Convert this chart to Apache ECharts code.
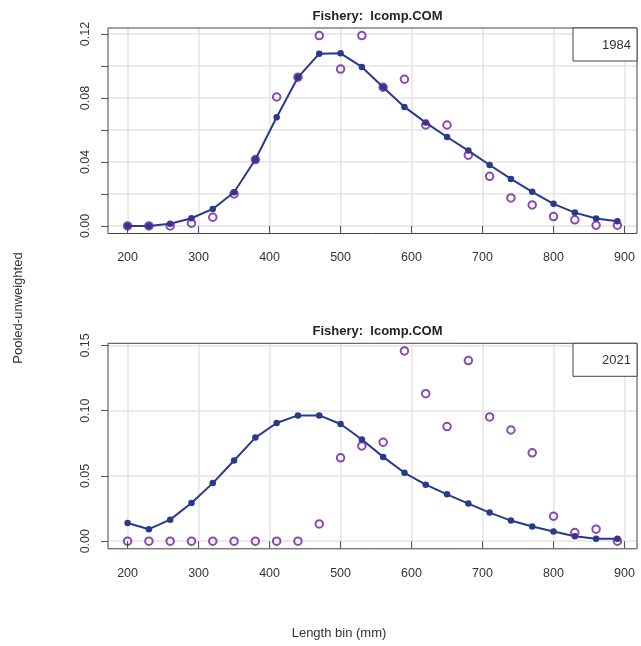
<!DOCTYPE html>
<html><head><meta charset="utf-8">
<script src="https://cdn.jsdelivr.net/npm/echarts@6/dist/echarts.min.js"></script>
<style>html,body{margin:0;padding:0;background:#fff}#c{width:641px;height:646px}</style>
</head><body><div id="c"></div>
<script>
// ---- data ----
const lengthBins = [200,230,260,290,320,350,380,410,440,470,500,530,560,590,620,650,680,710,740,770,800,830,860,890];
const exp1984 = [0.0000,0.0000,0.0013,0.0048,0.0106,0.0210,0.0415,0.0679,0.0929,0.1077,0.1079,0.0994,0.0867,0.0744,0.0646,0.0556,0.0471,0.0381,0.0294,0.0213,0.0138,0.0083,0.0046,0.0029];
const obs1984 = [0.0000,0.0000,0.0000,0.0017,0.0054,0.0200,0.0415,0.0806,0.0930,0.1190,0.0981,0.1190,0.0867,0.0917,0.0631,0.0631,0.0442,0.0310,0.0175,0.0131,0.0058,0.0038,0.0004,0.0004];
const exp2021 = [0.0140,0.0092,0.0165,0.0293,0.0445,0.0618,0.0794,0.0906,0.0964,0.0964,0.0898,0.0779,0.0646,0.0524,0.0433,0.0359,0.0288,0.0219,0.0158,0.0112,0.0074,0.0038,0.0018,0.0018];
const obs2021 = [0,0,0,0,0,0,0,0,0,0.0132,0.0639,0.0730,0.0758,0.1458,0.1130,0.0878,0.1384,0.0952,0.0852,0.0677,0.0191,0.0066,0.0092,0.0000];
const xTicks = [200,300,400,500,600,700,800,900];
const yTicks1984 = [0,0.02,0.04,0.06,0.08,0.10,0.12];
const yLabels1984 = [0,0.04,0.08,0.12];
const yTicks2021 = [0,0.05,0.10,0.15];
const yLabels2021 = [0,0.05,0.10,0.15];
const panelTitle = 'Fishery:  lcomp.COM';
const panelYears = ['1984','2021'];
const yAxisTitle = 'Pooled-unweighted';
const xAxisTitle = 'Length bin (mm)';

// ---- layout / style ----
const FONT = 'Liberation Sans, Arial, Helvetica, sans-serif';
const L = {left:108, width:529, height:205.5, tops:[28,343.3]};
const LINE_COL = '#283A8E', OBS_COL = '#6C1E9A', AX_COL = '#555', TXT = '#333', GRID_COL = '#e4e4e4';

function rng(arr){ const mn=Math.min(...arr), mx=Math.max(...arr), e=0.04*(mx-mn); return [mn-e, mx+e]; }
const xr = rng(lengthBins);
const yr = [rng(exp1984.concat(obs1984)), rng(exp2021.concat(obs2021))];
const yTicks = [yTicks1984, yTicks2021], yLabels=[yLabels1984, yLabels2021];
const splitN = [6,3];
const panels = [[exp1984, obs1984],[exp2021, obs2021]];

const grids=[], xAxes=[], yAxes=[], series=[], titles=[], graphics=[];
panels.forEach((p,i)=>{
  const top = L.tops[i];
  grids.push({left:L.left, top:top, width:L.width, height:L.height, containLabel:false});
  xAxes.push({type:'value', gridIndex:i, min:xr[0], max:xr[1], splitNumber:7,
    axisLine:{show:false},
    axisTick:{show:true, inside:false, length:7, lineStyle:{color:AX_COL, width:1}, customValues:xTicks},
    axisLabel:{show:true, margin:18, fontSize:12.5, color:TXT, fontFamily:FONT, customValues:xTicks},
    splitLine:{show:true, lineStyle:{color:GRID_COL, width:1.5}}});
  yAxes.push({type:'value', gridIndex:i, min:yr[i][0], max:yr[i][1], splitNumber:splitN[i],
    axisLine:{show:false},
    axisTick:{show:true, inside:false, length:7, lineStyle:{color:AX_COL, width:1}, customValues:yTicks[i]},
    axisLabel:{show:true, rotate:90, margin:16, fontSize:12.5, color:TXT, fontFamily:FONT,
      customValues:yLabels[i], formatter:v=>Number(v).toFixed(2)},
    splitLine:{show:true, lineStyle:{color:GRID_COL, width:1.5}}});
  series.push({type:'line', xAxisIndex:i, yAxisIndex:i, data:lengthBins.map((b,k)=>[b,p[0][k]]),
    symbol:'circle', symbolSize:6.5, showSymbol:true, z:2,
    itemStyle:{color:LINE_COL}, lineStyle:{color:LINE_COL, width:2}});
  series.push({type:'scatter', xAxisIndex:i, yAxisIndex:i, data:lengthBins.map((b,k)=>[b,p[1][k]]),
    symbol:'circle', symbolSize:7.5, z:3,
    itemStyle:{color:'rgba(0,0,0,0)', borderColor:OBS_COL, borderWidth:2}});
  titles.push({text:panelTitle, left:L.left+L.width/2, top:top-23, textAlign:'center',
    textStyle:{fontSize:13, fontWeight:'bold', color:'#222', fontFamily:FONT}});
  graphics.push({type:'rect', z:100, shape:{x:L.left, y:top, width:L.width, height:L.height},
    style:{fill:'none', stroke:'#444', lineWidth:1}});
  graphics.push({type:'rect', z:101, shape:{x:L.left+L.width-64, y:top, width:64, height:33},
    style:{fill:'#fff', stroke:'#444', lineWidth:1}});
  graphics.push({type:'text', z:102, x:L.left+L.width-6, y:top+17,
    style:{text:panelYears[i], fill:TXT, font:'13px '+FONT, align:'right', verticalAlign:'middle'}});
});
graphics.push({type:'text', z:102, x:18, y:308, rotation:Math.PI/2,
  style:{text:yAxisTitle, fill:TXT, font:'13px '+FONT, align:'center', verticalAlign:'middle'}});
graphics.push({type:'text', z:102, x:339, y:633,
  style:{text:xAxisTitle, fill:TXT, font:'13px '+FONT, align:'center', verticalAlign:'middle'}});

const chart = echarts.init(document.getElementById('c'), null, {renderer:'canvas'});
chart.setOption({
  animation:false, backgroundColor:'#fff',
  title:titles, grid:grids, xAxis:xAxes, yAxis:yAxes, series:series, graphic:graphics
});
</script></body></html>
